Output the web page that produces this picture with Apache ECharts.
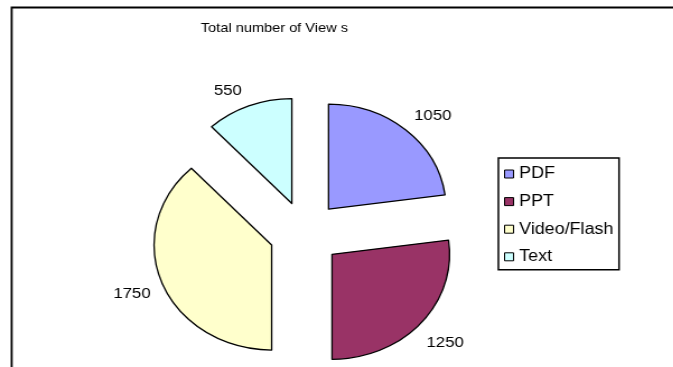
<!DOCTYPE html>
<html>
<head>
<meta charset="utf-8">
<script src="https://cdn.jsdelivr.net/npm/echarts@6/dist/echarts.min.js"></script>
<style>
  html, body { margin: 0; padding: 0; background: #fff; overflow: hidden; }
  /* the chart is laid out at its natural width and widened horizontally */
  #chart { width: 601px; height: 367px; transform: scaleX(1.12); transform-origin: 0 0; }
</style>
</head>
<body>
<div id="chart"></div>
<script>
// Views per content type
const categories = ['PDF', 'PPT', 'Video/Flash', 'Text'];
const views = [1050, 1250, 1750, 550];
const chartTitle = 'Total number of View s';

const sliceColors = ['#9999FF', '#993366', '#FFFFCC', '#CCFFFF'];
const FONT = '"Liberation Sans", Arial, sans-serif';

const chart = echarts.init(document.getElementById('chart'), null, { renderer: 'canvas' });

const pieData = categories.map((name, i) => ({
  name: name,
  value: views[i],
  selected: true,
  itemStyle: { color: sliceColors[i] }
}));

// value labels sit on a transparent ring; the two upper ones are pulled in a little
const labelNudge = { 'PDF': [5, 8], 'Text': [-8, 12] };
const labelData = categories.map((name, i) => {
  const item = { name: name, value: views[i] };
  if (labelNudge[name]) item.label = { offset: labelNudge[name] };
  return item;
});

chart.setOption({
  backgroundColor: '#ffffff',
  animation: false,
  title: {
    text: chartTitle,
    left: 240,
    top: 17,
    textAlign: 'center',
    textStyle: { fontFamily: FONT, fontSize: 13, fontWeight: 'normal', color: '#000' }
  },
  legend: {
    orient: 'vertical',
    left: 445,
    top: 158,
    data: categories,
    icon: 'rect',
    itemWidth: 8,
    itemHeight: 8,
    itemGap: 11.6,
    padding: [8, 5, 5, 5],
    borderColor: '#000',
    borderWidth: 1.5,
    selectedMode: false,
    itemStyle: { borderColor: '#000', borderWidth: 1 },
    textStyle: { fontFamily: FONT, fontSize: 16, color: '#000', lineHeight: 16, padding: [0, 0, 0, 0] }
  },
  graphic: [{
    type: 'rect',
    shape: { x: 10.4, y: 7.5, width: 700, height: 500 },
    style: { fill: 'none', stroke: '#000', lineWidth: 1.8 },
    silent: true
  }],
  series: [
    {
      type: 'pie',
      name: 'Views',
      center: [272.3, 233.3],
      radius: [0, 105],
      startAngle: 90,
      clockwise: true,
      selectedMode: 'multiple',
      selectedOffset: 32,
      avoidLabelOverlap: false,
      label: { show: false },
      labelLine: { show: false },
      itemStyle: { borderColor: '#000', borderWidth: 1.3 },
      emphasis: { disabled: true, scale: false },
      select: { itemStyle: { borderColor: '#000', borderWidth: 1.3 } },
      data: pieData
    },
    {
      // transparent ring that carries the value labels around the pie
      type: 'pie',
      name: 'ViewLabels',
      center: [272.3, 233.3],
      radius: [150, 176],
      startAngle: 90,
      clockwise: true,
      silent: true,
      avoidLabelOverlap: false,
      itemStyle: { color: 'rgba(0,0,0,0)', borderWidth: 0 },
      label: {
        show: true,
        position: 'inside',
        formatter: '{c}',
        fontFamily: FONT,
        fontSize: 15,
        color: '#000'
      },
      labelLine: { show: false },
      emphasis: { disabled: true },
      data: labelData
    }
  ]
});
</script>
</body>
</html>
